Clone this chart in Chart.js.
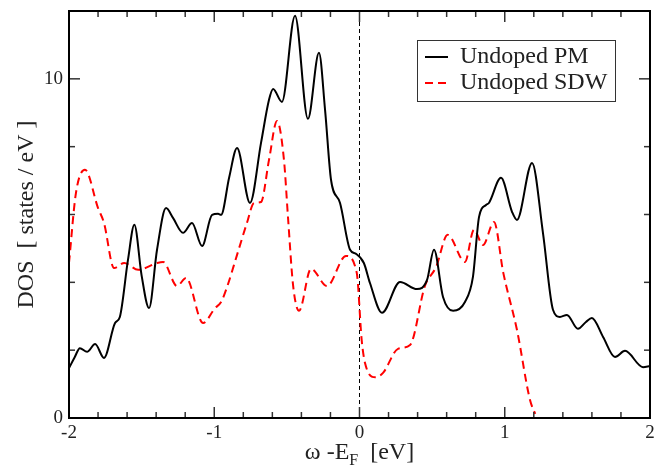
<!DOCTYPE html>
<html>
<head>
<meta charset="utf-8">
<script src="https://cdn.jsdelivr.net/npm/chart.js@4"></script>
<style>
  body { margin: 0; background: #fff; }
</style>
</head>
<body>
<canvas id="dos" width="671" height="466"></canvas>
<script>
// values (energy in eV, DOS in states/eV)
const pmEnergy = [-2, -1.96, -1.925, -1.876, -1.82, -1.759, -1.683, -1.65, -1.594, -1.55, -1.5, -1.449, -1.394, -1.332, -1.284, -1.215, -1.153, -1.084, -1.015, -0.974, -0.953, -0.897, -0.843, -0.754, -0.678, -0.623, -0.595, -0.534, -0.444, -0.355, -0.279, -0.237, -0.196, -0.134, -0.065, -0.024, 0.03, 0.072, 0.155, 0.279, 0.396, 0.465, 0.513, 0.575, 0.644, 0.726, 0.781, 0.823, 0.871, 0.891, 0.974, 1.05, 1.084, 1.188, 1.263, 1.332, 1.38, 1.428, 1.504, 1.559, 1.6, 1.677, 1.759, 1.828, 1.952, 2];
const pmDos = [1.47, 1.8, 2.06, 1.95, 2.18, 1.77, 2.8, 2.98, 4.66, 5.7, 4.2, 3.24, 4.96, 6.19, 5.9, 5.46, 5.75, 5.07, 5.99, 6.02, 5.99, 7.1, 7.96, 6.34, 8.11, 9.38, 9.7, 9.32, 11.86, 8.82, 10.77, 9.08, 7.02, 6.34, 4.96, 4.84, 4.57, 3.98, 3.1, 4.01, 3.8, 4.07, 4.96, 3.57, 3.16, 3.42, 4.16, 5.93, 6.28, 6.34, 7.08, 6.08, 5.84, 7.52, 5.46, 3.19, 2.98, 3.04, 2.63, 2.83, 2.95, 2.39, 1.8, 1.98, 1.5, 1.53];

const sdwEnergy = [-2, -1.952, -1.89, -1.8, -1.759, -1.69, -1.62, -1.524, -1.393, -1.352, -1.256, -1.194, -1.077, -0.995, -0.953, -0.912, -0.843, -0.775, -0.726, -0.678, -0.623, -0.568, -0.52, -0.492, -0.457, -0.416, -0.334, -0.224, -0.093, -0.019, 0.015, 0.038, 0.11, 0.162, 0.265, 0.348, 0.451, 0.527, 0.607, 0.726, 0.788, 0.85, 0.926, 0.99, 1.084, 1.174, 1.21];
const sdwDos = [4.57, 6.64, 7.32, 6.19, 5.75, 4.42, 4.57, 4.37, 4.57, 4.6, 3.89, 4.13, 2.8, 3.24, 3.42, 3.86, 4.81, 5.75, 6.34, 6.37, 7.61, 8.76, 7.61, 5.9, 3.9, 3.16, 4.4, 3.89, 4.78, 4.28, 2.3, 1.62, 1.2, 1.33, 2.04, 2.15, 3.9, 4.45, 5.4, 4.6, 5.55, 5.1, 5.78, 4.28, 2.6, 0.53, 0.12];

const seriesNames = ['Undoped PM', 'Undoped SDW'];
const xTickLabels = ['-2', '-1', '0', '1', '2'];
const yTickLabels = ['0', '10'];
const fermiLine = [{ x: 0, y: 0 }, { x: 0, y: 12 }];

const serif = '"Liberation Serif", "Times New Roman", serif';
const textColour = '#222';

function toPoints(xs, ys) {
    return xs.map((x, i) => ({ x: x, y: ys[i] }));
}

function line(ctx, x1, y1, x2, y2) {
    ctx.beginPath();
    ctx.moveTo(x1, y1);
    ctx.lineTo(x2, y2);
    ctx.stroke();
}

// inward ticks on all four sides, frame, legend and axis titles (xmgrace look)
const gracePlugin = {
    id: 'grace',
    afterDraw(chart) {
        const ctx = chart.ctx;
        const a = chart.chartArea;
        const xs = chart.scales.x;
        const ys = chart.scales.y;
        ctx.save();

        ctx.strokeStyle = '#333';
        ctx.lineWidth = 1.5;
        xs.ticks.forEach(t => {
            const px = xs.getPixelForValue(t.value);
            if (px <= a.left + 1 || px >= a.right - 1) return;
            const len = t.label ? 11 : 6;
            line(ctx, px, a.bottom, px, a.bottom - len);
            line(ctx, px, a.top, px, a.top + len);
        });
        ys.ticks.forEach(t => {
            const py = ys.getPixelForValue(t.value);
            if (py <= a.top + 1 || py >= a.bottom - 1) return;
            const len = t.label ? 11 : 6;
            line(ctx, a.left, py, a.left + len, py);
            line(ctx, a.right, py, a.right - len, py);
        });

        ctx.strokeStyle = '#000';
        ctx.lineWidth = 2;
        ctx.strokeRect(a.left, a.top, a.right - a.left, a.bottom - a.top);

        // legend box
        ctx.fillStyle = '#fff';
        ctx.fillRect(417.5, 40.5, 198, 61);
        ctx.strokeStyle = '#333';
        ctx.lineWidth = 1;
        ctx.strokeRect(417.5, 40.5, 198, 61);
        ctx.font = '24px ' + serif;
        ctx.textAlign = 'left';
        ctx.textBaseline = 'alphabetic';
        const rows = [57, 83];
        seriesNames.forEach((name, i) => {
            const ds = chart.data.datasets[i];
            ctx.strokeStyle = ds.borderColor;
            ctx.lineWidth = 2;
            ctx.setLineDash(ds.borderDash || []);
            line(ctx, 425, rows[i], 448, rows[i]);
            ctx.setLineDash([]);
            ctx.fillStyle = textColour;
            ctx.fillText(name, 460, rows[i] + 6);
        });

        // y title
        ctx.save();
        ctx.translate(33, (a.top + a.bottom) / 2);
        ctx.rotate(-Math.PI / 2);
        ctx.textAlign = 'center';
        ctx.fillText('DOS  [ states / eV ]', 0, 0);
        ctx.restore();

        // x title with subscript F
        const main = 'ω -E';
        const sub = 'F';
        const tail = '  [eV]';
        ctx.font = '24px ' + serif;
        const w1 = ctx.measureText(main).width;
        const w3 = ctx.measureText(tail).width;
        ctx.font = '16px ' + serif;
        const w2 = ctx.measureText(sub).width;
        let x0 = (a.left + a.right) / 2 - (w1 + w2 + w3) / 2;
        const base = 459;
        ctx.font = '24px ' + serif;
        ctx.fillText(main, x0, base);
        ctx.font = '16px ' + serif;
        ctx.fillText(sub, x0 + w1, base + 6);
        ctx.font = '24px ' + serif;
        ctx.fillText(tail, x0 + w1 + w2, base);

        ctx.restore();
    }
};

new Chart(document.querySelector('#dos'), {
    type: 'scatter',
    data: {
        datasets: [{
            label: seriesNames[0],
            data: toPoints(pmEnergy, pmDos),
            showLine: true,
            borderColor: '#000',
            borderWidth: 2,
            pointRadius: 0,
            cubicInterpolationMode: 'monotone'
        }, {
            label: seriesNames[1],
            data: toPoints(sdwEnergy, sdwDos),
            showLine: true,
            borderColor: '#ff0000',
            borderWidth: 2,
            borderDash: [8, 5],
            pointRadius: 0,
            cubicInterpolationMode: 'monotone'
        }, {
            label: 'Fermi level',
            data: fermiLine,
            showLine: true,
            borderColor: '#000',
            borderWidth: 1,
            borderDash: [4, 3],
            pointRadius: 0
        }]
    },
    options: {
        responsive: false,
        animation: false,
        layout: { padding: { left: 0, right: 21, top: 11, bottom: 0 } },
        plugins: {
            legend: { display: false },
            tooltip: { enabled: false }
        },
        scales: {
            x: {
                type: 'linear',
                min: -2,
                max: 2,
                grid: { display: false, drawTicks: false },
                border: { display: false },
                ticks: {
                    stepSize: 0.2,
                    autoSkip: false,
                    maxRotation: 0,
                    padding: 4,
                    color: textColour,
                    font: { family: serif, size: 19 },
                    callback: v => {
                        const r = Math.round(v);
                        if (Math.abs(v - r) > 1e-6) return '';
                        const s = String(r);
                        return xTickLabels.includes(s) ? s : '';
                    }
                },
                afterFit: s => {
                    s.height = 48;
                    s.paddingLeft = 0;
                    s.paddingRight = 0;
                }
            },
            y: {
                min: 0,
                max: 12,
                grid: { display: false, drawTicks: false },
                border: { display: false },
                ticks: {
                    stepSize: 2,
                    autoSkip: false,
                    padding: 6,
                    color: textColour,
                    font: { family: serif, size: 19 },
                    callback: v => {
                        const s = String(Math.round(v));
                        return yTickLabels.includes(s) ? s : '';
                    }
                },
                afterFit: s => {
                    s.width = 69;
                    s.paddingTop = 0;
                    s.paddingBottom = 0;
                }
            }
        }
    },
    plugins: [gracePlugin]
});
</script>
</body>
</html>
